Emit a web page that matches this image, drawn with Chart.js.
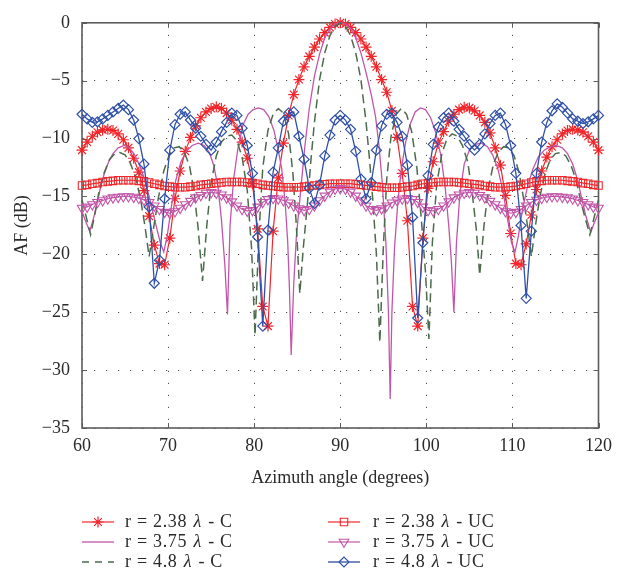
<!DOCTYPE html>
<html><head><meta charset="utf-8">
<script src="https://cdn.jsdelivr.net/npm/chart.js@4.4.1/dist/chart.umd.min.js"></script>
<style>html,body{margin:0;padding:0;background:#fff;}canvas{display:block;}</style>
</head><body>
<canvas id="c" width="619" height="576"></canvas>
<script>
// ---- data ----
const ANGLES = [
60,60.6,61.2,61.8,62.4,63,63.6,64.2,64.8,65.4,
66,66.6,67.2,67.8,68.4,69,69.6,70.2,70.8,71.4,
72,72.6,73.2,73.8,74.4,75,75.6,76.2,76.8,77.4,
78,78.6,79.2,79.8,80.4,81,81.6,82.2,82.8,83.4,
84,84.6,85.2,85.8,86.4,87,87.6,88.2,88.8,89.4,
90,90.6,91.2,91.8,92.4,93,93.6,94.2,94.8,95.4,
96,96.6,97.2,97.8,98.4,99,99.6,100.2,100.8,101.4,
102,102.6,103.2,103.8,104.4,105,105.6,106.2,106.8,107.4,
108,108.6,109.2,109.8,110.4,111,111.6,112.2,112.8,113.4,
114,114.6,115.2,115.8,116.4,117,117.6,118.2,118.8,119.4,
120];
const AF_238_C = [
-11.0,-10.3,-9.8,-9.45,-9.25,-9.2,-9.3,-9.6,-10.1,-10.8,
-11.7,-12.9,-14.5,-16.7,-19.2,-20.8,-20.9,-18.6,-15.2,-12.8,
-11.1,-9.9,-8.9,-8.2,-7.7,-7.4,-7.25,-7.4,-7.8,-8.4,
-9.2,-10.3,-11.7,-13.9,-17.8,-24.5,-26.2,-18.0,-13.4,-10.4,
-8.0,-6.2,-4.9,-3.8,-2.9,-2.1,-1.4,-0.85,-0.4,-0.1,
0,-0.1,-0.4,-0.85,-1.4,-2.1,-2.9,-3.8,-4.9,-6.0,
-7.6,-9.9,-13.0,-17.1,-24.5,-26.2,-18.6,-14.3,-12.0,-10.4,
-9.4,-8.5,-7.9,-7.5,-7.3,-7.35,-7.6,-8.0,-8.6,-9.5,
-10.8,-12.3,-14.9,-18.2,-20.8,-20.9,-19.1,-16.6,-14.4,-12.8,
-11.6,-10.7,-10.1,-9.6,-9.3,-9.2,-9.25,-9.45,-9.8,-10.3,
-11.0];
const AF_238_UC = [
-14.05,-14.0,-13.9,-13.85,-13.75,-13.7,-13.65,-13.6,-13.6,-13.6,
-13.6,-13.65,-13.7,-13.8,-13.9,-14.0,-14.1,-14.15,-14.2,-14.2,
-14.2,-14.15,-14.1,-14.0,-13.95,-13.9,-13.85,-13.8,-13.75,-13.75,
-13.75,-13.75,-13.8,-13.85,-13.9,-14.0,-14.05,-14.1,-14.15,-14.2,
-14.2,-14.2,-14.2,-14.15,-14.1,-14.05,-14.0,-13.95,-13.9,-13.9,
-13.9,-13.9,-13.9,-13.95,-14.0,-14.05,-14.1,-14.15,-14.2,-14.25,
-14.25,-14.25,-14.2,-14.15,-14.1,-14.0,-13.9,-13.85,-13.8,-13.75,
-13.75,-13.75,-13.75,-13.8,-13.85,-13.9,-13.95,-14.0,-14.1,-14.15,
-14.2,-14.2,-14.2,-14.15,-14.1,-14.0,-13.9,-13.8,-13.7,-13.65,
-13.6,-13.6,-13.6,-13.6,-13.65,-13.7,-13.75,-13.85,-13.9,-14.0,
-14.05];
const AF_375_UC = [
-16.0,-15.9,-15.7,-15.5,-15.35,-15.2,-15.1,-15.05,-15.0,-15.0,
-15.05,-15.15,-15.3,-15.5,-15.8,-16.1,-16.35,-16.45,-16.3,-16.0,
-15.7,-15.4,-15.1,-14.9,-14.7,-14.65,-14.7,-14.85,-15.1,-15.45,
-15.8,-16.1,-16.25,-16.2,-15.9,-15.5,-15.25,-15.15,-15.2,-15.35,
-15.55,-15.8,-16.05,-16.2,-16.1,-15.8,-15.35,-14.95,-14.6,-14.35,
-14.3,-14.35,-14.6,-14.95,-15.35,-15.8,-16.1,-16.2,-16.05,-15.8,
-15.55,-15.35,-15.2,-15.15,-15.25,-15.5,-15.9,-16.2,-16.25,-16.1,
-15.8,-15.45,-15.1,-14.85,-14.7,-14.65,-14.7,-14.9,-15.1,-15.4,
-15.7,-16.0,-16.3,-16.45,-16.35,-16.1,-15.8,-15.5,-15.3,-15.15,
-15.05,-15.0,-15.0,-15.05,-15.1,-15.2,-15.35,-15.5,-15.7,-15.9,
-16.0];
const AF_48_UC = [
-7.9,-8.3,-8.6,-8.55,-8.3,-8.0,-7.7,-7.4,-7.1,-7.5,
-8.4,-10.0,-12.2,-15.9,-22.5,-20.5,-15.2,-11.0,-8.8,-7.9,
-7.7,-8.4,-9.1,-9.8,-10.5,-11.0,-10.3,-9.4,-8.6,-7.8,
-8.0,-9.1,-10.6,-13.0,-18.5,-26.2,-17.9,-12.9,-10.8,-8.5,
-7.8,-7.7,-9.8,-11.8,-14.3,-15.6,-14.0,-11.5,-9.7,-8.4,
-8.0,-8.4,-9.2,-11.1,-13.5,-15.2,-13.8,-11.0,-8.9,-7.9,
-7.8,-8.6,-9.8,-12.3,-16.8,-25.5,-19.0,-13.2,-10.5,-9.0,
-8.2,-7.8,-8.5,-9.2,-9.8,-10.5,-11.0,-10.5,-9.6,-8.7,
-8.0,-7.8,-8.8,-10.6,-13.0,-17.5,-23.8,-18.0,-13.0,-10.3,
-8.6,-7.6,-7.0,-7.3,-7.8,-8.3,-8.5,-8.7,-8.55,-8.3,
-8.0];
// conventional arrays (no markers) are read at their own angles
const ANG_375_C = [
60.0,60.5,60.9,61.3,61.7,62.1,62.6,63.1,63.6,64.2,
64.9,65.5,66.1,66.7,67.3,67.9,68.5,69.1,69.5,69.9,
70.4,70.9,71.5,72.1,72.8,73.5,74.2,74.8,75.3,75.8,
76.2,76.6,76.9,77.2,77.6,78.1,78.7,79.3,79.9,80.5,
81.1,81.7,82.3,82.8,83.2,83.6,83.9,84.1,84.3,84.6,
84.9,85.3,85.9,86.4,87.0,87.6,88.2,88.8,89.4,90.0,
90.6,91.2,91.8,92.4,93.0,93.6,94.1,94.5,94.9,95.3,
95.6,95.8,96.0,96.3,96.7,97.1,97.6,98.1,98.7,99.3,
99.9,100.5,101.1,101.7,102.2,102.6,102.9,103.2,103.5,103.9,
104.4,105.0,105.7,106.4,107.1,107.7,108.3,108.9,109.4,109.9,
110.3,110.7,111.2,111.8,112.4,113.0,113.7,114.4,115.1,115.8,
116.4,117.0,117.5,118.0,118.5,119.1,119.5,120.0];
const AF_375_C = [
-16.3,-17.3,-18.0,-17.0,-15.8,-14.4,-13.0,-12.0,-11.3,-10.8,
-10.6,-10.8,-11.4,-12.3,-13.6,-15.3,-17.2,-19.0,-19.8,-18.4,
-15.8,-13.6,-12.0,-11.1,-10.6,-10.4,-10.6,-11.2,-12.3,-14.2,
-17.0,-21.0,-25.2,-17.5,-13.6,-10.9,-8.8,-7.9,-7.5,-7.35,
-7.5,-8.1,-9.3,-11.0,-12.6,-15.5,-19.0,-23.0,-28.7,-22.5,
-18.5,-15.3,-10.6,-7.4,-4.6,-2.7,-1.3,-0.5,-0.1,0,
-0.1,-0.5,-1.3,-2.6,-4.3,-6.2,-8.1,-10.6,-14.0,-19.0,
-25.0,-32.5,-25.0,-19.5,-15.4,-12.6,-10.3,-8.8,-7.7,-7.35,
-7.5,-8.2,-9.5,-11.5,-14.3,-17.5,-20.5,-25.0,-19.0,-14.8,
-12.2,-11.0,-10.5,-10.4,-10.7,-11.4,-12.6,-14.5,-16.8,-19.0,
-19.8,-18.4,-16.0,-14.0,-12.6,-11.6,-11.0,-10.7,-10.6,-10.8,
-11.3,-12.2,-13.4,-15.0,-16.6,-18.1,-17.3,-16.4];
const ANG_48_C = [
60.0,60.5,61.0,61.5,62.0,62.6,63.2,63.8,64.4,65.0,
65.6,66.2,66.8,67.3,67.8,68.3,68.9,69.5,70.1,70.7,
71.3,71.9,72.5,73.0,73.5,74.0,74.5,75.0,75.6,76.2,
76.8,77.4,78.0,78.6,79.2,79.7,80.1,80.5,81.0,81.6,
82.2,82.8,83.4,84.0,84.5,84.9,85.3,85.7,86.2,86.6,
87.0,87.6,88.2,88.8,89.4,90.0,90.6,91.2,91.8,92.4,
93.0,93.4,93.8,94.2,94.6,95.0,95.4,95.9,96.5,97.1,
97.7,98.3,98.9,99.4,99.9,100.3,100.7,101.2,101.8,102.4,
103.0,103.6,104.2,104.8,105.3,105.8,106.2,106.7,107.2,107.8,
108.4,109.0,109.6,110.2,110.8,111.3,111.8,112.2,112.7,113.2,
113.8,114.4,115.0,115.6,116.2,116.8,117.4,118.0,118.5,119.0,
119.5,120.0];
const AF_48_C = [
-15.3,-16.8,-18.3,-16.5,-14.5,-12.9,-11.8,-11.3,-11.2,-11.4,
-12.1,-13.3,-15.2,-17.5,-20.2,-17.8,-15.0,-12.8,-11.5,-10.8,
-10.7,-11.2,-12.4,-14.5,-17.8,-22.3,-17.5,-13.8,-11.5,-10.3,
-9.8,-9.7,-10.2,-11.6,-14.5,-19.5,-27.0,-19.0,-12.5,-9.3,
-7.9,-7.4,-7.8,-9.6,-13.0,-17.5,-23.4,-19.5,-15.5,-11.8,
-8.6,-4.9,-2.6,-1.1,-0.3,0,-0.3,-1.1,-2.6,-4.9,
-8.6,-11.8,-15.5,-20.0,-27.6,-19.5,-13.5,-9.8,-7.9,-7.4,
-7.9,-9.4,-12.5,-16.8,-21.5,-27.3,-19.0,-14.0,-11.3,-10.0,
-9.6,-9.8,-10.6,-12.0,-14.5,-17.8,-21.8,-17.5,-14.3,-12.2,
-11.1,-10.7,-10.8,-11.5,-13.0,-15.2,-17.8,-20.2,-17.4,-15.0,
-13.0,-11.8,-11.3,-11.2,-11.5,-12.3,-13.6,-15.6,-17.0,-18.3,
-16.8,-15.3];
const X_TICKS = [60, 70, 80, 90, 100, 110, 120];
const Y_TICKS = [0, -5, -10, -15, -20, -25, -30, -35];
const Y_TICK_LABELS = ['0', '\u22125', '\u221210', '\u221215', '\u221220', '\u221225', '\u221230', '\u221235'];
const LEGEND_LABELS = ['r = 2.38 \u03bb - C', 'r = 3.75 \u03bb - C', 'r = 4.8 \u03bb - C',
                       'r = 2.38 \u03bb - UC', 'r = 3.75 \u03bb - UC', 'r = 4.8 \u03bb - UC'];
const X_TITLE = 'Azimuth angle (degrees)';
const Y_TITLE = 'AF (dB)';

// ---- styling ----
const FONT = "'Liberation Serif', 'DejaVu Serif', serif";
const RED = '#f0262b', MAG = '#c355a9', GRN = '#4c6a4c', BLU = '#2f50a8';
const pts = (xs, ys) => xs.map((x, i) => ({x: x, y: ys[i]}));
const NONE = 'rgba(0,0,0,0)';

const datasets = [
  {label: LEGEND_LABELS[0], data: pts(ANGLES, AF_238_C), borderColor: RED, borderWidth: 1.2,
   pointStyle: 'star', pointRadius: 5.5, pointBorderColor: RED, pointBackgroundColor: NONE, pointBorderWidth: 1.2, order: 6},
  {label: LEGEND_LABELS[1], data: pts(ANG_375_C, AF_375_C), borderColor: MAG, borderWidth: 1.3,
   pointRadius: 0, order: 5},
  {label: LEGEND_LABELS[2], data: pts(ANG_48_C, AF_48_C), borderColor: GRN, borderWidth: 1.5, borderDash: [9, 5],
   pointRadius: 0, order: 4},
  {label: LEGEND_LABELS[3], data: pts(ANGLES, AF_238_UC), borderColor: RED, borderWidth: 1.2,
   pointStyle: 'rect', pointRadius: 5.3, pointBorderColor: RED, pointBackgroundColor: NONE, pointBorderWidth: 1.1, order: 3},
  {label: LEGEND_LABELS[4], data: pts(ANGLES, AF_375_UC), borderColor: MAG, borderWidth: 1.2,
   pointStyle: 'triangle', pointRotation: 180, pointRadius: 5.5, pointBorderColor: MAG, pointBackgroundColor: NONE, pointBorderWidth: 1.1, order: 2},
  {label: LEGEND_LABELS[5], data: pts(ANGLES, AF_48_UC), borderColor: BLU, borderWidth: 1.3,
   pointStyle: 'rectRot', pointRadius: 5, pointBorderColor: BLU, pointBackgroundColor: NONE, pointBorderWidth: 1.2, order: 1}
];
datasets.forEach(d => { d.fill = false; d.tension = 0; d.clip = 10; });

const TXT = 18;
const decor = {
  id: 'decor',
  beforeDatasetsDraw(chart) {
    const {ctx, chartArea: a, scales} = chart;
    ctx.save();
    ctx.strokeStyle = '#5c5c5c';
    ctx.lineWidth = 1;
    ctx.beginPath();
    X_TICKS.forEach(v => {
      const x = Math.round(scales.x.getPixelForValue(v)) + 0.5;
      ctx.moveTo(x, a.bottom); ctx.lineTo(x, a.bottom - 5);
      ctx.moveTo(x, a.top); ctx.lineTo(x, a.top + 5);
    });
    Y_TICKS.forEach(v => {
      const y = Math.round(scales.y.getPixelForValue(v)) + 0.5;
      ctx.moveTo(a.left, y); ctx.lineTo(a.left + 5, y);
      ctx.moveTo(a.right, y); ctx.lineTo(a.right - 5, y);
    });
    ctx.stroke();
    ctx.lineWidth = 1.6;
    ctx.strokeRect(a.left, a.top, a.right - a.left, a.bottom - a.top);
    ctx.restore();
  },
  afterDraw(chart) {
    const {ctx, chartArea: a} = chart;
    ctx.save();
    ctx.fillStyle = '#2a2a2a';
    ctx.font = TXT + 'px ' + FONT;
    ctx.textAlign = 'center';
    ctx.textBaseline = 'middle';
    ctx.fillText(X_TITLE, (a.left + a.right) / 2, 478);
    ctx.save();
    ctx.translate(22, (a.top + a.bottom) / 2);
    ctx.rotate(-Math.PI / 2);
    ctx.fillText(Y_TITLE, 0, 0);
    ctx.restore();
    // legend: two columns, three rows
    const colLine = [82, 328], colText = [125, 373], rowY = [522, 542, 562];
    if ('letterSpacing' in ctx) ctx.letterSpacing = '0.7px';
    chart.data.datasets.forEach((ds, i) => {
      const col = Math.floor(i / 3), row = i % 3;
      const x0 = colLine[col], y = rowY[row];
      ctx.save();
      ctx.letterSpacing = '0px';
      ctx.strokeStyle = ds.borderColor;
      ctx.lineWidth = ds.borderWidth;
      ctx.setLineDash(ds.borderDash ? [7, 6] : []);
      ctx.beginPath(); ctx.moveTo(x0, y); ctx.lineTo(x0 + 32, y); ctx.stroke();
      ctx.setLineDash([]);
      if (ds.pointRadius > 0 && Chart.helpers && Chart.helpers.drawPoint) {
        ctx.fillStyle = NONE;
        ctx.strokeStyle = ds.pointBorderColor;
        ctx.lineWidth = ds.pointBorderWidth;
        Chart.helpers.drawPoint(ctx, {pointStyle: ds.pointStyle, rotation: ds.pointRotation || 0,
          radius: ds.pointRadius, borderWidth: ds.pointBorderWidth}, x0 + 16, y);
      }
      ctx.restore();
      // text with italic lambda
      const parts = ds.label.split('\u03bb');
      let tx = colText[col];
      ctx.textAlign = 'left';
      ctx.font = TXT + 'px ' + FONT;
      ctx.fillText(parts[0], tx, y); tx += ctx.measureText(parts[0]).width + 1;
      ctx.font = 'italic ' + TXT + 'px ' + FONT;
      ctx.fillText('\u03bb', tx, y); tx += ctx.measureText('\u03bb').width + 1;
      ctx.font = TXT + 'px ' + FONT;
      ctx.fillText(parts[1], tx, y);
    });
    ctx.restore();
  }
};

new Chart(document.getElementById('c'), {
  type: 'line',
  data: {datasets: datasets},
  options: {
    responsive: false, animation: false, devicePixelRatio: 1,
    layout: {padding: {left: 0, right: 16, top: 14, bottom: 0}},
    plugins: {legend: {display: false}, tooltip: {enabled: false}},
    scales: {
      x: {
        type: 'linear', min: 60, max: 120,
        afterFit(s) { s.height = 148; },
        afterBuildTicks(s) { s.ticks = X_TICKS.map(v => ({value: v})); },
        ticks: {font: {family: FONT, size: TXT}, color: '#2a2a2a', padding: 7, maxRotation: 0,
                callback: v => String(v)},
        grid: {color: '#555', lineWidth: 1, drawTicks: false},
        border: {display: false, dash: [1.2, 10.8]}
      },
      y: {
        min: -35, max: 0,
        afterFit(s) { s.width = 82; },
        afterBuildTicks(s) { s.ticks = Y_TICKS.map(v => ({value: v})); },
        ticks: {font: {family: FONT, size: TXT}, color: '#2a2a2a', padding: 12,
                callback: v => Y_TICK_LABELS[Y_TICKS.indexOf(v)]},
        grid: {color: '#555', lineWidth: 1, drawTicks: false},
        border: {display: false, dash: [1.2, 10.8]}
      }
    }
  },
  plugins: [decor]
});
</script>
</body></html>
